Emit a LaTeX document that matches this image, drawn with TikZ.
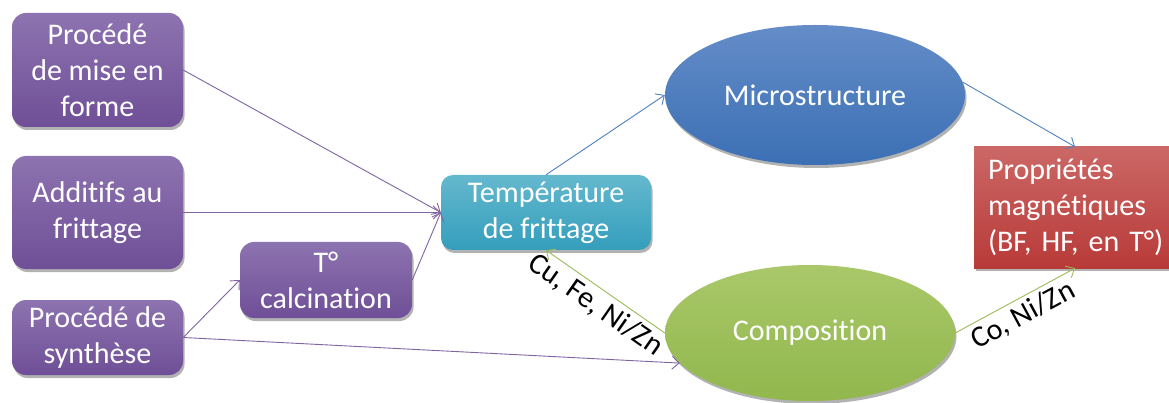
\documentclass[tikz,border=0pt]{standalone}
\usepackage{fontspec}
\setmainfont[Ligatures={NoCommon}]{Carlito}
\frenchspacing
\usetikzlibrary{shapes.geometric,shadows,arrows.meta}
\definecolor{purpTop}{RGB}{141,115,176}
\definecolor{purpBot}{RGB}{111,79,151}
\definecolor{tealTop}{RGB}{100,184,206}
\definecolor{tealBot}{RGB}{52,158,188}
\definecolor{blueTop}{RGB}{100,141,200}
\definecolor{blueBot}{RGB}{59,111,180}
\definecolor{greenTop}{RGB}{170,200,106}
\definecolor{greenBot}{RGB}{145,183,77}
\definecolor{redTop}{RGB}{203,104,102}
\definecolor{redBot}{RGB}{184,58,56}
\definecolor{purpLine}{RGB}{128,100,162}
\definecolor{blueLine}{RGB}{79,129,189}
\definecolor{greenLine}{RGB}{155,187,89}
\tikzset{
  boxbase/.style={font=\fontsize{30}{36}\selectfont\frenchspacing, text=white, align=center, inner sep=0pt,
    drop shadow={shadow xshift=1.5pt, shadow yshift=-3pt, opacity=0.3, fill=black}},
  purpbox/.style={boxbase, rectangle, rounded corners=14pt, top color=purpTop, bottom color=purpBot},
  tealbox/.style={boxbase, rectangle, rounded corners=12pt, top color=tealTop, bottom color=tealBot},
  redbox/.style={boxbase, rectangle, top color=redTop, bottom color=redBot},
  blueell/.style={boxbase, ellipse, top color=blueTop, bottom color=blueBot},
  greenell/.style={boxbase, ellipse, top color=greenTop, bottom color=greenBot},
  conn/.style={line width=0.9pt, -{Straight Barb[length=7pt,width=13pt]}},
  purpconn/.style={conn, draw=purpLine},
  blueconn/.style={conn, draw=blueLine},
  greenconn/.style={conn, draw=greenLine},
  lbl/.style={font=\fontsize{30}{36}\selectfont\frenchspacing, text=black, sloped, inner sep=4pt}
}
\begin{document}
\begin{tikzpicture}[x=1pt,y=-1pt]
\useasboundingbox (0,0) rectangle (1169,403);
\fill[white] (0,0) rectangle (1169,403);

\node[purpbox, minimum width=171pt, minimum height=114pt] (b1) at (97.5,70) {Procédé\\de mise en\\forme};
\node[purpbox, minimum width=171pt, minimum height=113pt] (b2) at (97.5,212.5) {Additifs au\\frittage};
\node[purpbox, minimum width=171pt, minimum height=75pt] (b3) at (97.5,337.5) {Procédé de\\synthèse};
\node[purpbox, minimum width=172pt, minimum height=76pt] (tc) at (326,280) {T°\\calcination};
\node[tealbox, minimum width=210pt, minimum height=75pt] (temp) at (546,212.5) {Température\\de frittage};
\node[blueell, minimum width=300pt, minimum height=140pt] (micro) at (815,95) {Microstructure};
\node[greenell, minimum width=290pt, minimum height=136pt] (comp) at (810,333) {Composition};
\node[redbox, minimum height=121pt, inner xsep=14pt, text width=190pt, align=left] (prop) at (1083,207.5) {Propriétés\\magnétiques\\(BF, HF, en T°)};

\draw[purpconn] (b1.east) -- (temp.west);
\draw[purpconn] (b2.east) -- (temp.west);
\draw[purpconn] (tc.east) -- (temp.west);
\draw[purpconn] (b3.east) -- (tc.west);
\draw[purpconn] (b3.east) -- (comp.193);
\draw[blueconn] (temp.north) -- (micro.west);
\draw[blueconn] (micro.5) -- ([xshift=-8pt]prop.north);
\draw[greenconn] (comp.east) -- node[lbl, below] {Co, Ni/Zn} ([xshift=-8pt]prop.south);
\draw[greenconn, {Straight Barb[length=7pt,width=13pt]}-] (temp.south) -- node[lbl, below] {Cu, Fe, Ni/Zn} (comp.west);
\end{tikzpicture}
\end{document}
